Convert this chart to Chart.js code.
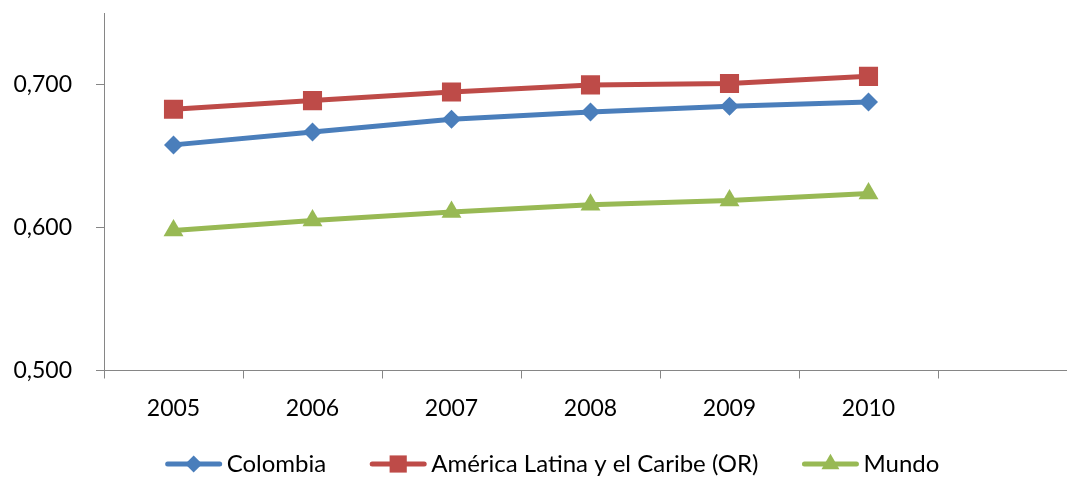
<!DOCTYPE html>
<html>
<head>
<meta charset="UTF-8">
<title>IDH</title>
<script src="https://cdn.jsdelivr.net/npm/chart.js"></script>
<style>
body { margin: 0; background: #fff; overflow: hidden; }
#wrap { width: 1104px; height: 478px; }
</style>
</head>
<body>
<div id="wrap"><canvas id="idh" width="1104" height="478"></canvas></div>
<script>
// categorias (la ultima va vacia, como en el original)
const years = ["2005", "2006", "2007", "2008", "2009", "2010", ""];
const colombia = [0.658, 0.667, 0.676, 0.681, 0.685, 0.688];
const latam = [0.683, 0.689, 0.695, 0.700, 0.701, 0.706];
const mundo = [0.598, 0.605, 0.611, 0.616, 0.619, 0.624];
const yTicks = [0.5, 0.6, 0.7];

const axisGrey = "#868686";
const font = { family: "Lato", size: 23 };
const legendFont = { family: "Lato", size: 24 };
const legendHeight = 42;
const gap = 21;      // hueco antes de cada simbolo de la leyenda
const symbolW = 56;  // largo de la linea en la leyenda
const nudge = 7;     // acerca el simbolo al texto

// altura fija de la leyenda y simbolo (linea + marcador) de cada serie
const legendTweaks = {
  id: "legendTweaks",
  beforeLayout(chart) {
    const lg = chart.legend;
    if (lg && !lg._fixedFit) {
      const fit = lg.fit;
      lg.fit = function () { fit.call(this); this.height = legendHeight; };
      lg._fixedFit = true;
    }
  },
  afterDraw(chart) {
    const lg = chart.legend;
    if (!lg || !lg.legendHitBoxes) return;
    const ctx = chart.ctx;
    lg.legendHitBoxes.forEach((box, i) => {
      const ds = chart.data.datasets[i];
      const x0 = box.left + gap + nudge;
      const y = box.top + box.height / 2;
      ctx.save();
      ctx.strokeStyle = ds.borderColor;
      ctx.lineWidth = ds.borderWidth;
      ctx.lineCap = "round";
      ctx.beginPath();
      ctx.moveTo(x0 + 2, y);
      ctx.lineTo(x0 + symbolW - 2, y);
      ctx.stroke();
      ctx.fillStyle = ds.pointBackgroundColor;
      ctx.strokeStyle = ds.pointBackgroundColor;
      Chart.helpers.drawPoint(ctx, {
        pointStyle: ds.pointStyle,
        radius: ds.pointRadius * 0.9,
        rotation: 0,
        borderWidth: 0
      }, x0 + symbolW / 2, y);
      ctx.restore();
    });
  }
};

function serie(label, data, color, style, r) {
  return {
    label: label,
    data: data,
    borderColor: color,
    backgroundColor: color,
    pointBackgroundColor: color,
    pointBorderColor: color,
    pointBorderWidth: 0,
    pointStyle: style,
    pointRadius: r,
    pointHoverRadius: r,
    borderWidth: 5,
    tension: 0,
    fill: false
  };
}

new Chart(document.getElementById("idh"), {
  type: "line",
  data: {
    labels: years,
    datasets: [
      serie("Colombia", colombia, "#4A7EBB", "rectRot", 9.5),
      serie("América Latina y el Caribe (OR)", latam, "#BE4B48", "rect", 13.5),
      serie("Mundo", mundo, "#98B954", "triangle", 11.5)
    ]
  },
  options: {
    responsive: false,
    animation: false,
    layout: { padding: { left: 0, right: 27, top: 10, bottom: 0 } },
    plugins: {
      tooltip: { enabled: false },
      legend: {
        position: "bottom",
        labels: {
          font: legendFont,
          color: "#000",
          boxWidth: gap + symbolW,
          boxHeight: 5,
          padding: 16,
          generateLabels(chart) {
            return chart.data.datasets.map((ds, i) => ({
              text: ds.label,
              fillStyle: "rgba(0,0,0,0)",
              strokeStyle: "rgba(0,0,0,0)",
              lineWidth: 0,
              datasetIndex: i
            }));
          }
        }
      }
    },
    scales: {
      x: {
        offset: true,
        afterFit(s) { s.height = 65.5; s.paddingLeft = 0; s.paddingRight = 0; },
        grid: { offset: true, drawOnChartArea: false, tickLength: 8, color: axisGrey },
        border: { color: axisGrey, width: 1 },
        ticks: { font: font, color: "#000", padding: 16, maxRotation: 0 }
      },
      y: {
        min: 0.5,
        max: 0.75,
        afterBuildTicks(s) { s.ticks = yTicks.map(v => ({ value: v })); },
        afterFit(s) { s.width = 104; s.paddingTop = 0; s.paddingBottom = 0; },
        grid: { drawOnChartArea: false, tickLength: 8, color: axisGrey },
        border: { color: axisGrey, width: 1 },
        ticks: {
          font: font,
          color: "#000",
          padding: 24,
          callback: v => v.toFixed(3).replace(".", ",")
        }
      }
    }
  },
  plugins: [legendTweaks]
});
</script>
</body>
</html>
